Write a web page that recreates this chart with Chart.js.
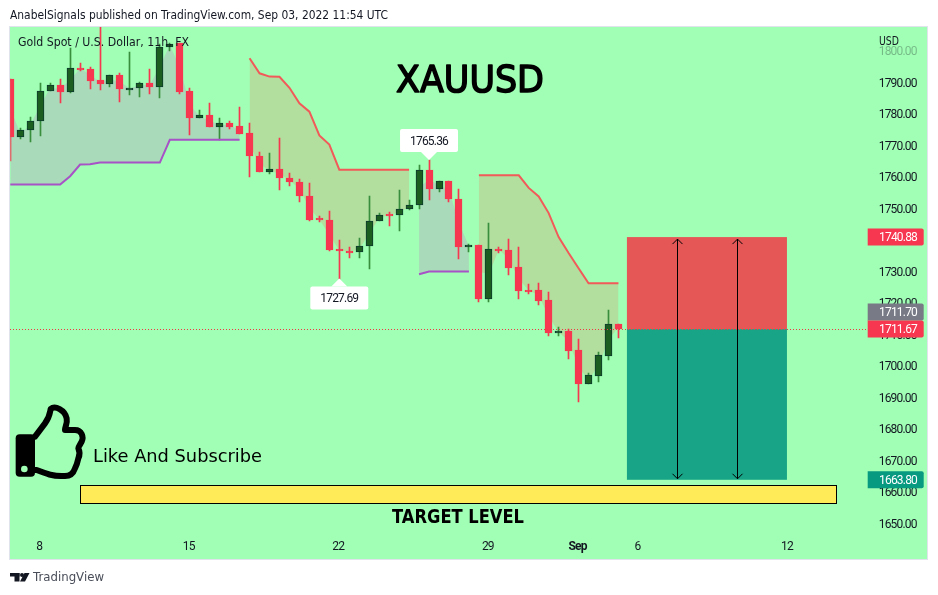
<!DOCTYPE html>
<html><head><meta charset="utf-8">
<style>html,body{margin:0;padding:0;background:#fff}canvas{display:block}</style>
<script src="https://cdn.jsdelivr.net/npm/chart.js@4"></script>
</head><body>
<canvas id="c" width="938" height="595"></canvas>
<script>
const opens=[1790.99,1772.61,1774.97,1777.83,1787.39,1789.07,1786.94,1794.71,1794.39,1790.67,1789.49,1792.48,1787.80,1788.22,1789.94,1788.54,1801.27,1802.45,1787.17,1778.66,1779.75,1775.80,1777.20,1776.02,1773.79,1766.78,1761.46,1762.55,1759.78,1758.50,1754.04,1746.82,1746.40,1737.17,1736.53,1735.99,1737.90,1745.99,1748.09,1747.77,1749.68,1750.96,1762.23,1756.05,1758.73,1753.09,1737.58,1738.44,1721.24,1737.17,1736.85,1731.43,1724.11,1724.11,1720.92,1710.41,1711.05,1705.00,1694.17,1696.72,1703.09,1713.28];
const highs=[1790.99,1775.61,1779.11,1789.94,1789.71,1790.99,1800.86,1796.31,1795.03,1809.00,1792.48,1793.12,1799.59,1790.25,1794.17,1802.13,1802.45,1802.45,1788.34,1781.11,1783.34,1778.79,1777.61,1782.29,1777.20,1768.06,1767.64,1772.42,1761.27,1759.36,1758.09,1747.68,1749.27,1740.03,1737.80,1740.67,1754.04,1748.54,1748.73,1755.96,1752.77,1763.92,1765.36,1758.73,1758.73,1756.27,1738.76,1738.44,1745.45,1737.80,1740.35,1737.80,1726.02,1726.34,1723.47,1712.32,1711.69,1708.50,1697.68,1704.36,1717.74,1713.28];
const lows=[1764.97,1771.88,1771.02,1772.93,1787.39,1783.34,1786.75,1793.63,1787.80,1787.58,1788.44,1783.76,1785.89,1785.25,1786.21,1784.94,1799.90,1786.21,1773.15,1778.66,1775.80,1771.66,1775.06,1773.47,1759.87,1761.46,1761.05,1755.73,1757.01,1751.91,1745.86,1745.54,1736.60,1727.69,1734.39,1734.39,1730.89,1745.99,1744.27,1742.68,1749.36,1749.90,1752.55,1755.10,1751.91,1733.98,1735.99,1720.38,1720.38,1735.89,1728.89,1721.24,1722.83,1719.33,1709.46,1709.46,1702.13,1688.43,1694.17,1694.81,1701.82,1708.82];
const closes=[1772.61,1774.97,1777.83,1787.39,1789.07,1786.94,1794.71,1794.17,1790.45,1789.49,1792.48,1787.80,1788.34,1789.94,1788.54,1801.40,1802.35,1786.94,1778.66,1779.75,1775.80,1777.20,1775.80,1773.47,1766.56,1761.46,1762.55,1759.55,1758.28,1753.82,1746.40,1746.18,1736.85,1736.31,1735.89,1738.03,1745.99,1747.90,1747.77,1749.81,1751.08,1762.23,1756.05,1758.73,1752.87,1737.58,1738.34,1721.24,1737.17,1736.53,1731.21,1723.79,1723.89,1720.57,1710.41,1711.05,1704.68,1694.17,1697.04,1703.41,1713.28,1711.67];
const bandEdge=[1781.8,1773.8,1776.4,1782.6,1788.2,1788.0,1790.8,1794.4,1792.4,1790.1,1791.0,1790.1,1788.1,1789.1,1789.2,1795.0,1801.9,1794.7,1782.9,1779.2,1777.8,1776.5,1776.5,1774.7,1770.2,1764.1,1762.0,1761.0,1759.0,1756.2,1750.2,1746.5,1741.6,1736.7,1736.2,1737.0,1742.0,1747.0,1747.9,1748.8,1750.4,1756.6,1759.1,1757.4,1755.8,1745.3,1738.0,1729.8,1729.2,1736.9,1734.0,1727.6,1724.0,1722.3,1715.7,1710.7,1707.9,1699.6,1695.6,1700.1,1708.2,1712.5];
const _=null;
const trendUp=[1757.55,1757.55,1757.55,1757.55,1757.55,1757.55,1760.2,1763.92,1764.0,1764.55,1764.55,1764.55,1764.55,1764.55,1764.55,1764.55,1771.78,1771.78,1771.78,1771.78,1771.78,1771.78,1771.78,1771.78,_,_,_,_,_,_,_,_,_,_,_,_,_,_,_,_,_,1729.1,1729.94,1729.94,1729.94,1729.94,1729.94,_,_,_,_,_,_,_,_,_,_,_,_,_,_,_];
const trendDown=[_,_,_,_,_,_,_,_,_,_,_,_,_,_,_,_,_,_,_,_,_,_,_,_,1797.67,1792.9,1791.85,1791.8,1788.3,1783.34,1780.7,1773.15,1770.25,1762.3,1762.3,1762.3,1762.3,1762.3,1762.3,1762.3,1762.3,_,_,_,_,_,_,1760.5,1760.5,1760.5,1760.5,1760.5,1756.5,1753.8,1748.5,1740.9,1735.8,1731.0,1726.2,1726.2,1726.2,1726.2];
const slotCount=87;
const tickSlots=[3,18,33,48,57,63,78];
const tickNames=["8","15","22","29","Sep","6","12"];
const priceTicks=[1650,1660,1670,1680,1690,1700,1710,1720,1730,1740,1750,1760,1770,1780,1790,1800];
const priceMin=1646.9, priceMax=1807.6;
const slots=Array.from({length:slotCount},(v,i)=>String(i));

const GREEN="#1b5e20", GREEN_EDGE="#0d3b2e", GREEN_WICK="#388e3c", RED="#f7374f";
const BG='#a0ffb4';
const SANS='"DejaVu Sans"', NUM='Roboto', TIGHT='-0.8px';
const isUp=i=>closes[i]>=opens[i];

const overlay={
 id:'overlay',
 beforeDraw(ch){
  const c=ch.ctx;c.save();
  c.fillStyle='#fff';c.fillRect(0,0,938,595);
  c.fillStyle=BG;c.fillRect(10,27,917,532);
  c.strokeStyle='#e0e3eb';c.lineWidth=1;c.strokeRect(9.5,26.5,918,533);
  c.restore();
  c.letterSpacing=TIGHT;
 },
 beforeDatasetsDraw(ch){
  ch.data.datasets.forEach((d,i)=>{
   if(d.type!=='bar')return;
   ch.getDatasetMeta(i).data.forEach(el=>{
    el.x=Math.floor(el.x)+0.5;
    el.y=Math.round(el.y);el.base=Math.round(el.base);
    if(Math.abs(el.base-el.y)<2)el.base=el.y+2;
   });
  });
 },
 afterDatasetsDraw(ch){
  const c=ch.ctx,X=ch.scales.x,Y=ch.scales.y;
  const px=v=>X.getPixelForValue(v),py=v=>Y.getPixelForValue(v);
  c.save();
  // position tool
  const bx0=px(61.85),bx1=px(77.9);
  c.fillStyle='#e55757';c.fillRect(bx0,py(1740.88),bx1-bx0,py(1711.67)-py(1740.88));
  c.fillStyle='#18a587';c.fillRect(bx0,py(1711.67),bx1-bx0,py(1663.8)-py(1711.67));
  [66.9,72.9].forEach(a=>{
   const x=Math.round(px(a))+0.5,t=py(1740.88)+2,b=py(1663.8)-1;
   c.strokeStyle='#000';c.lineWidth=1;c.beginPath();c.moveTo(x,t);c.lineTo(x,b);
   c.moveTo(x-5,t+5);c.lineTo(x,t);c.lineTo(x+5,t+5);
   c.moveTo(x-5,b-5);c.lineTo(x,b);c.lineTo(x+5,b-5);c.stroke();
  });
  // target box
  const ty0=Math.round(py(1662.3))+0.5,ty1=Math.round(py(1656.3))+0.5,tx0=Math.round(px(7))+0.5,tx1=Math.round(px(82.85))+0.5;
  c.fillStyle='#ffeb57';c.fillRect(tx0,ty0,tx1-tx0,ty1-ty0);
  c.strokeStyle='#000';c.lineWidth=1;c.strokeRect(tx0,ty0,tx1-tx0,ty1-ty0);
  // last price dotted
  c.strokeStyle='#f23645';c.setLineDash([1,2]);c.beginPath();
  const ly=Math.round(py(1711.67))+0.5;c.moveTo(10,ly);c.lineTo(X.right,ly);c.stroke();c.setLineDash([]);
  // callouts
  const callout=(i,v,above,text)=>{
   const x=px(i),y=py(v),w=58,h=23;
   const by=above?y-8-h:y+8;
   c.fillStyle='#fff';c.beginPath();c.roundRect(x-w/2,by,w,h,2);c.fill();
   c.beginPath();
   if(above){c.moveTo(x-8,y-8);c.lineTo(x,y);c.lineTo(x+8,y-8);}else{c.moveTo(x-8,y+8);c.lineTo(x,y);c.lineTo(x+8,y+8);}
   c.fill();
   c.fillStyle='#131722';c.font='12px '+NUM;c.textAlign='center';c.textBaseline='middle';
   c.fillText(text,x,by+h/2+1);
  };
  callout(42,1765.36,true,'1765.36');
  callout(33,1727.69,false,'1727.69');
  // price badges
  const badge=(cy,col,text)=>{
   c.fillStyle=col;c.beginPath();c.roundRect(X.right,cy-8.5,56,17,[0,2,2,0]);c.fill();
   c.fillStyle='#fff';c.font='12px '+NUM;c.textAlign='left';c.textBaseline='middle';
   c.fillText(text,879,cy+1);
  };
  badge(py(1740.88),'#f7374f','1740.88');
  badge(py(1711.67)-17,'#787b86','1711.70');
  badge(py(1711.67),'#f7374f','1711.67');
  badge(py(1663.8),'#089981','1663.80');
  // texts
  c.letterSpacing='0px';
  c.fillStyle='#131722';c.textBaseline='middle';c.textAlign='left';
  c.font='12px '+SANS;
  c.fillText('AnabelSignals published on TradingView.com, Sep 03, 2022 11:54 UTC',10,16,378);
  c.fillText('Gold Spot / U.S. Dollar, 11h, FX',18,42.5,171);
  c.fillText('USD',879,42,20);
  c.fillStyle='#000';c.strokeStyle='#000';
  c.font='38px '+SANS;c.textAlign='center';c.lineWidth=1.6;c.lineJoin='round';
  c.fillText('XAUUSD',470,82,148);c.strokeText('XAUUSD',470,82,148);
  c.font='bold 19px '+SANS;c.fillText('TARGET LEVEL',458,518,132);
  c.font='18px '+SANS;c.textAlign='left';c.fillText('Like And Subscribe',93,457,169);
  c.fillStyle='#4a4e59';c.font='12px '+SANS;c.fillText('TradingView',33,578,71);
  // thumb
  c.save();c.translate(0,395);c.scale(1/3,1/3);
  c.fillStyle='#000';c.beginPath();c.roundRect(47,118,58,127,12);c.fill();
  c.fillStyle=BG;c.beginPath();c.arc(73,222,10,0,Math.PI*2);c.fill();
  c.strokeStyle='#000';c.lineWidth=18;c.lineJoin='round';c.lineCap='round';c.beginPath();
  c.moveTo(105,125);c.lineTo(135,85);c.bezierCurveTo(150,65,150,50,152,42);c.bezierCurveTo(165,30,195,45,200,70);
  c.bezierCurveTo(203,85,195,95,195,105);c.lineTo(225,105);c.bezierCurveTo(245,105,252,125,245,140);
  c.bezierCurveTo(240,150,235,155,235,160);c.bezierCurveTo(240,170,240,180,235,190);c.bezierCurveTo(233,200,230,210,225,220);
  c.bezierCurveTo(220,235,210,245,190,243);c.bezierCurveTo(160,245,135,235,110,225);c.lineTo(100,225);c.stroke();
  c.restore();
  // logo
  c.fillStyle='#131722';c.fillRect(10,573,9.5,3.5);c.fillRect(14.5,573,5,8.5);
  c.beginPath();c.arc(22,575,2,0,Math.PI*2);c.fill();
  c.beginPath();c.moveTo(24.5,573);c.lineTo(29.5,573);c.lineTo(25,581.5);c.lineTo(20,581.5);c.closePath();c.fill();
  c.restore();
 }
};

new Chart(document.getElementById('c'),{
 data:{labels:slots,datasets:[
  {type:'line',label:'edge',data:bandEdge,borderWidth:0,borderColor:'transparent',pointRadius:0,order:9},
  {type:'line',label:'up',data:trendUp,borderColor:'#a752c6',borderWidth:2,pointRadius:0,spanGaps:false,order:1,fill:{target:0,above:'rgba(178,181,190,0.5)',below:'rgba(178,181,190,0.5)'}},
  {type:'line',label:'down',data:trendDown,borderColor:'#f25a5a',borderWidth:2,pointRadius:0,spanGaps:false,order:2,fill:{target:0,above:'rgba(196,189,136,0.5)',below:'rgba(196,189,136,0.5)'}},
  {type:'bar',label:'wick',data:highs.map((h,i)=>[lows[i],h]),barThickness:1,borderWidth:0,order:4,
   backgroundColor:ctx=>isUp(ctx.dataIndex)?GREEN_WICK:RED},
  {type:'bar',label:'body',data:opens.map((o,i)=>[o,closes[i]]),barThickness:7,borderWidth:1,borderSkipped:false,order:3,
   backgroundColor:ctx=>isUp(ctx.dataIndex)?GREEN:RED,
   borderColor:ctx=>isUp(ctx.dataIndex)?GREEN_EDGE:RED}
 ]},
 options:{
  responsive:false,animation:false,devicePixelRatio:1,
  layout:{padding:{left:10.3,top:27,right:0,bottom:36}},
  datasets:{bar:{grouped:false}},
  plugins:{legend:{display:false},tooltip:{enabled:false},title:{display:false},filler:{drawTime:'beforeDatasetsDraw'}},
  scales:{
   x:{type:'category',offset:false,grid:{display:false,drawTicks:false},border:{display:false},
    afterFit(s){s.height=26;},
    ticks:{autoSkip:false,maxRotation:0,padding:6.5,labelOffset:-1,color:'#131722',
     font:ctx=>({family:NUM,size:12,weight:tickSlots.indexOf(ctx.index)===4?'bold':'normal'}),
     callback(v,i){const k=tickSlots.indexOf(i);return k<0?'':tickNames[k];}}},
   y:{type:'linear',position:'right',min:priceMin,max:priceMax,grid:{display:false,drawTicks:false},border:{display:false},
    afterFit(s){s.width=70.3;},
    afterBuildTicks(s){s.ticks=priceTicks.map(v=>({value:v}));},
    ticks:{padding:11,labelOffset:1.5,font:{family:NUM,size:12},color:ctx=>ctx.tick&&ctx.tick.value===1800?'rgba(19,23,34,0.3)':'#131722',callback:v=>v.toFixed(2)}}
  }
 },
 plugins:[overlay]
});
</script>
</body></html>
